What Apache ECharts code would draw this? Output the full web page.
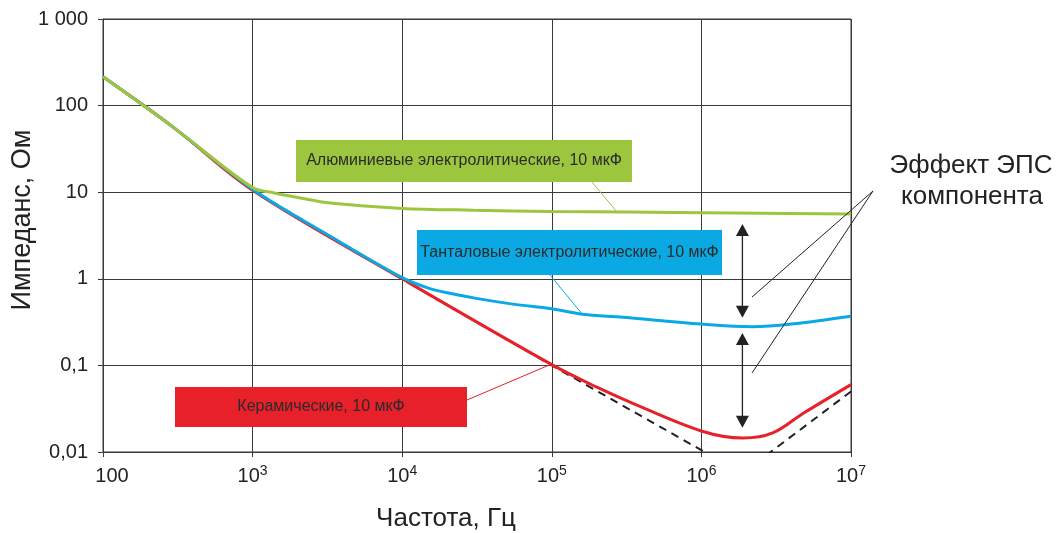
<!DOCTYPE html>
<html>
<head>
<meta charset="utf-8">
<script src="https://cdn.jsdelivr.net/npm/echarts@6/dist/echarts.min.js"></script>
<style>
  html, body { margin: 0; padding: 0; background: #fff; }
  #chart { width: 1061px; height: 533px; }
</style>
</head>
<body>
<div id="chart"></div>
<script>
// axis ticks
const xTickValues = [100, 1e3, 1e4, 1e5, 1e6, 1e7]
const xTickLabels = ['{p|100}', '{b|10}{s|3}', '{b|10}{s|4}', '{b|10}{s|5}', '{b|10}{s|6}', '{b|10}{s|7}']
const yTickValues = [0.01, 0.1, 1, 10, 100, 1000]
const yTickLabels = ['0,01', '0,1', '1', '10', '100', '1 000']

// [frequency Hz, impedance Ohm]
const idealCapacitor = [[100, 215], [300, 55], [1000, 10.5], [1e4, 1.0], [1e5, 0.1], [1e6, 0.0105], [1.82e6, 0.0056], [2.9e6, 0.01], [1e7, 0.05]]
const ceramic = [[100, 215], [300, 55], [1000, 10.5], [1e4, 1.0], [1e5, 0.102], [2e5, 0.056], [3.3e5, 0.038], [1e6, 0.0175], [1.9e6, 0.0145], [3e6, 0.0166], [4.8e6, 0.028], [1e7, 0.06]]
const tantalum = [[100, 215], [300, 55], [1000, 10.8], [3300, 3.1], [1e4, 1.03], [1.5e4, 0.78], [2e4, 0.69], [3.2e4, 0.59], [5.5e4, 0.51], [1e5, 0.45], [1.6e5, 0.39], [3e5, 0.36], [1e6, 0.30], [2.2e6, 0.28], [4e6, 0.30], [1e7, 0.37]]
const aluminum = [[100, 215], [300, 55], [1000, 11.3], [1400, 9.8], [2000, 8.7], [3300, 7.5], [1e4, 6.5], [3e4, 6.2], [1e5, 6.0], [1e6, 5.8], [1e7, 5.6]]

const labelAluminum = 'Алюминиевые электролитические, 10 мкФ'
const labelTantalum = 'Танталовые электролитические, 10 мкФ'
const labelCeramic = 'Керамические, 10 мкФ'
const esrText = ['Эффект ЭПС', 'компонента']

const FONT = '"Liberation Sans", Arial, sans-serif'
const GREEN = '#9dc63f'
const BLUE = '#0aa9e3'
const RED = '#e8202a'

const chart = echarts.init(document.getElementById('chart'))

const idx = (arr, v) => arr.findIndex(t => Math.abs(Math.log10(t) - Math.log10(v)) < 1e-6)

const option = {
  animation: false,
  backgroundColor: '#fff',
  grid: { left: 103, right: 210, top: 19, bottom: 81, show: true, borderColor: '#3a3a3a', borderWidth: 1, outerBoundsMode: 'none' },
  xAxis: {
    type: 'log', logBase: 10, min: 100, max: 1e7,
    axisLine: { show: true, lineStyle: { color: '#3a3a3a', width: 1 } },
    axisTick: { show: true, length: 5, lineStyle: { color: '#3a3a3a' } },
    minorTick: { show: false },
    splitLine: { show: true, lineStyle: { color: '#3a3a3a', width: 1 } },
    axisLabel: {
      margin: 12, showMinLabel: true, showMaxLabel: true,
      formatter: v => { const i = idx(xTickValues, v); return i < 0 ? '' : xTickLabels[i] },
      rich: {
        p: { fontSize: 20, fontFamily: FONT, color: '#222', lineHeight: 24, padding: [0, 0, 0, 18] },
        b: { fontSize: 20, fontFamily: FONT, color: '#222', lineHeight: 24 },
        s: { fontSize: 14, fontFamily: FONT, color: '#222', lineHeight: 14, verticalAlign: 'top' }
      }
    }
  },
  yAxis: {
    type: 'log', logBase: 10, min: 0.01, max: 1000,
    axisLine: { show: true, lineStyle: { color: '#3a3a3a', width: 1 } },
    axisTick: { show: true, length: 5, lineStyle: { color: '#3a3a3a' } },
    splitLine: { show: true, lineStyle: { color: '#3a3a3a', width: 1 } },
    axisLabel: {
      margin: 15, fontSize: 20, fontFamily: FONT, color: '#222', showMinLabel: true, showMaxLabel: true,
      formatter: v => { const i = idx(yTickValues, v); return i < 0 ? '' : yTickLabels[i] }
    }
  },
  series: [
    { type: 'line', data: idealCapacitor, showSymbol: false, clip: true, lineStyle: { color: '#222', width: 2, type: [8, 6] }, z: 2 },
    { type: 'line', data: ceramic, showSymbol: false, smooth: 0.35, clip: true, lineStyle: { color: RED, width: 3 }, z: 3 },
    { type: 'line', data: tantalum, showSymbol: false, smooth: 0.35, clip: true, lineStyle: { color: BLUE, width: 3 }, z: 4 },
    { type: 'line', data: aluminum, showSymbol: false, smooth: 0.35, clip: true, lineStyle: { color: GREEN, width: 3 }, z: 5 }
  ]
}

chart.setOption(option)

const px = (f, z) => chart.convertToPixel({ gridIndex: 0 }, [f, z])

function box(x1, y1, x2, y2, fill, text) {
  return [
    { type: 'rect', z: 100, shape: { x: x1, y: y1, width: x2 - x1, height: y2 - y1 }, style: { fill: fill } },
    { type: 'text', z: 101, x: (x1 + x2) / 2, y: (y1 + y2) / 2, style: { text: text, font: '16px ' + FONT, fill: '#2b2b2b', align: 'center', verticalAlign: 'middle' } }
  ]
}

function arrow(x, yTop, yBottom) {
  return [
    { type: 'line', z: 100, shape: { x1: x, y1: yTop + 8, x2: x, y2: yBottom - 8 }, style: { stroke: '#222', lineWidth: 1.3 } },
    { type: 'polygon', z: 100, shape: { points: [[x, yTop], [x - 6.5, yTop + 12], [x + 6.5, yTop + 12]] }, style: { fill: '#222' } },
    { type: 'polygon', z: 100, shape: { points: [[x, yBottom], [x - 6.5, yBottom - 12], [x + 6.5, yBottom - 12]] }, style: { fill: '#222' } }
  ]
}

function leader(a, b, color) {
  return { type: 'line', z: 99, shape: { x1: a[0], y1: a[1], x2: b[0], y2: b[1] }, style: { stroke: color, lineWidth: 1 } }
}

const aTop = px(1.88e6, 4.3), aMid1 = px(1.88e6, 0.355), aMid2 = px(1.88e6, 0.237), aBot = px(1.88e6, 0.019)
const esrFrom = [873, 191]

const graphic = [
  ...box(296, 140, 632, 182, GREEN, labelAluminum),
  ...box(417, 230, 722, 275, BLUE, labelTantalum),
  ...box(175, 387, 467, 427, RED, labelCeramic),
  leader([592, 182], px(2.72e5, 5.95), GREEN),
  leader([550, 275], px(1.6e5, 0.39), BLUE),
  leader([467, 400], px(1e5, 0.104), RED),
  ...arrow(aTop[0], aTop[1], aMid1[1]),
  ...arrow(aMid2[0], aMid2[1], aBot[1]),
  leader(esrFrom, [752, 297], '#222'),
  leader(esrFrom, [752, 373], '#222'),
  { type: 'text', z: 101, x: 971, y: 166, style: { text: esrText[0], font: '26px ' + FONT, fill: '#222', align: 'center', verticalAlign: 'middle' } },
  { type: 'text', z: 101, x: 972, y: 197, style: { text: esrText[1], font: '26px ' + FONT, fill: '#222', align: 'center', verticalAlign: 'middle' } },
  { type: 'text', z: 101, x: 23, y: 220, rotation: Math.PI / 2, style: { text: 'Импеданс, Ом', font: '27px ' + FONT, fill: '#222', align: 'center', verticalAlign: 'middle' } },
  { type: 'text', z: 101, x: 446, y: 519, style: { text: 'Частота, Гц', font: '26px ' + FONT, fill: '#222', align: 'center', verticalAlign: 'middle' } }
]

chart.setOption({ graphic: graphic })
</script>
</body>
</html>
